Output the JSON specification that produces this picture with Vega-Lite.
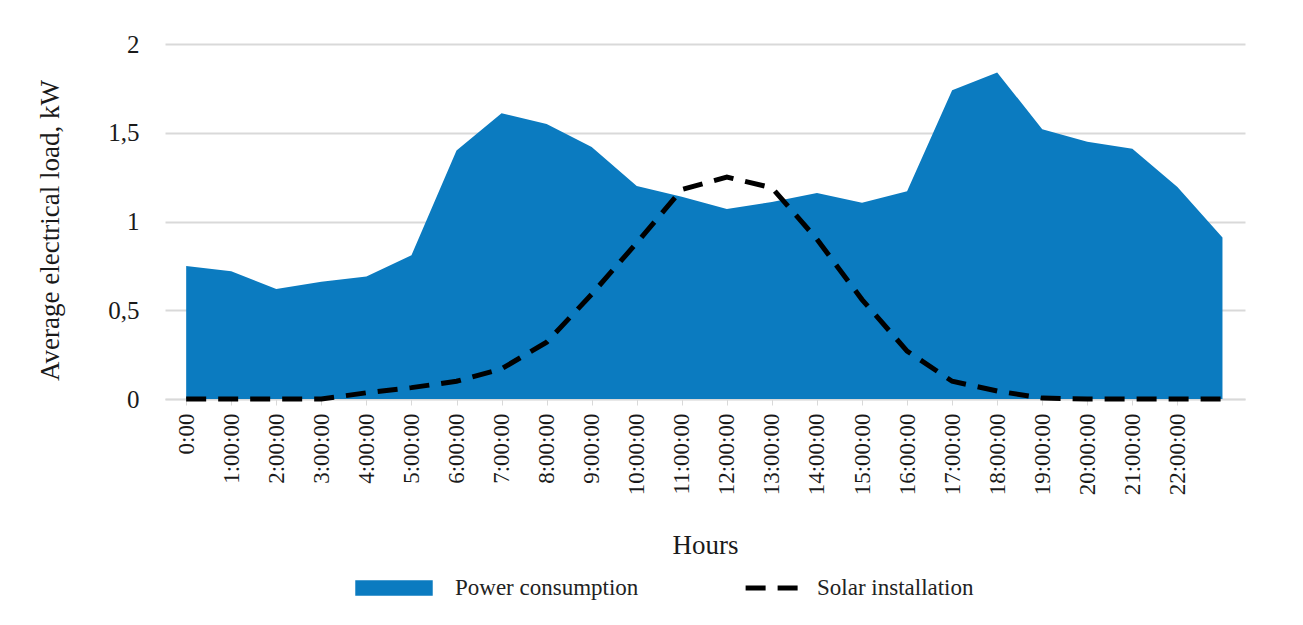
{
  "$schema": "https://vega.github.io/schema/vega-lite/v6.json",
  "width": 1080,
  "height": 355,
  "autosize": {"type": "none"},
  "padding": {"left": 165, "top": 44, "right": 58, "bottom": 226},
  "background": "white",
  "data": {
    "values": [
      {"hour": 0, "power": 0.75, "solar": 0.0},
      {"hour": 1, "power": 0.72, "solar": 0.0},
      {"hour": 2, "power": 0.62, "solar": 0.0},
      {"hour": 3, "power": 0.66, "solar": 0.0},
      {"hour": 4, "power": 0.69, "solar": 0.035},
      {"hour": 5, "power": 0.81, "solar": 0.064},
      {"hour": 6, "power": 1.40, "solar": 0.10},
      {"hour": 7, "power": 1.61, "solar": 0.17},
      {"hour": 8, "power": 1.55, "solar": 0.32},
      {"hour": 9, "power": 1.42, "solar": 0.59},
      {"hour": 10, "power": 1.20, "solar": 0.88},
      {"hour": 11, "power": 1.14, "solar": 1.18},
      {"hour": 12, "power": 1.07, "solar": 1.25},
      {"hour": 13, "power": 1.11, "solar": 1.19},
      {"hour": 14, "power": 1.16, "solar": 0.90},
      {"hour": 15, "power": 1.105, "solar": 0.56},
      {"hour": 16, "power": 1.17, "solar": 0.27},
      {"hour": 17, "power": 1.74, "solar": 0.10},
      {"hour": 18, "power": 1.84, "solar": 0.045},
      {"hour": 19, "power": 1.52, "solar": 0.005},
      {"hour": 20, "power": 1.45, "solar": 0.0},
      {"hour": 21, "power": 1.41, "solar": 0.0},
      {"hour": 22, "power": 1.195, "solar": 0.0},
      {"hour": 23, "power": 0.91, "solar": 0.0}
    ]
  },
  "encoding": {
    "x": {
      "field": "hour",
      "type": "quantitative",
      "scale": {"domain": [-0.47, 23.5], "nice": false, "zero": false},
      "axis": {
        "title": "Hours",
        "values": [0,1,2,3,4,5,6,7,8,9,10,11,12,13,14,15,16,17,18,19,20,21,22],
        "labelExpr": "datum.value == 0 ? '0:00' : datum.value + ':00:00'",
        "labelAngle": -90,
        "labelPadding": 8,
        "labelFont": "Liberation Serif",
        "labelFontSize": 23,
        "labelColor": "#1a1a1a",
        "grid": false,
        "domainColor": "#d9d9d9",
        "domainWidth": 1.5,
        "tickColor": "#d9d9d9",
        "tickSize": 6,
        "labelOverlap": false,
        "labelFlush": false,
        "titleFont": "Liberation Serif",
        "titleFontSize": 27,
        "titleFontWeight": "normal",
        "titleColor": "#1a1a1a",
        "titleY": 146,
        "titleBaseline": "middle"
      }
    }
  },
  "layer": [
    {
      "mark": {"type": "area", "color": "#0B7BC0", "line": false},
      "encoding": {
        "y": {
          "field": "power",
          "type": "quantitative",
          "scale": {"domain": [0, 2], "nice": false},
          "axis": {
            "title": "Average electrical load, kW",
            "values": [0, 0.5, 1, 1.5, 2],
            "labelExpr": "replace(format(datum.value, '~g'), '.', ',')",
            "labelFont": "Liberation Serif",
            "labelFontSize": 25,
            "labelColor": "#1a1a1a",
            "labelPadding": 26,
            "ticks": false,
            "domain": false,
            "gridColor": "#d9d9d9",
            "gridWidth": 2,
            "titleFont": "Liberation Serif",
            "titleFontSize": 27,
            "titleFontWeight": "normal",
            "titleColor": "#1a1a1a",
            "titleX": -115,
            "titleY": 186,
            "titleBaseline": "middle"
          }
        },
        "fill": {
          "datum": "Power consumption",
          "type": "nominal",
          "scale": {"domain": ["Power consumption"], "range": ["#0B7BC0"]},
          "legend": {
            "orient": "none",
            "legendX": 190,
            "legendY": 505,
            "title": null,
            "symbolType": "M-1,-0.2H1V0.2H-1Z",
            "symbolSize": 6000,
            "symbolStrokeWidth": 0,
            "labelFont": "Liberation Serif",
            "labelFontSize": 23,
            "labelLimit": 500,
            "labelColor": "#222",
            "labelOffset": 22
          }
        }
      }
    },
    {
      "mark": {"type": "line", "color": "black", "strokeWidth": 5, "strokeCap": "butt"},
      "encoding": {
        "y": {"field": "solar", "type": "quantitative"},
        "strokeDash": {
          "datum": "Solar installation",
          "type": "nominal",
          "scale": {"domain": ["Solar installation"], "range": [[20, 12]]},
          "legend": {
            "orient": "none",
            "legendX": 578,
            "legendY": 514,
            "title": null,
            "symbolType": "stroke",
            "symbolSize": 3000,
            "symbolStrokeWidth": 5,
            "symbolStrokeColor": "black",
            "symbolDash": [22, 12],
            "labelFont": "Liberation Serif",
            "labelFontSize": 23,
            "labelLimit": 500,
            "labelColor": "#222",
            "labelOffset": 14
          }
        }
      }
    }
  ],
  "config": {
    "view": {"stroke": null}
  }
}
